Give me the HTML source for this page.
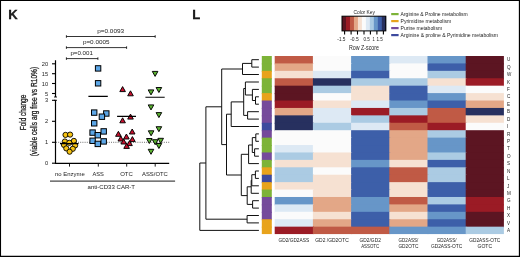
<!DOCTYPE html><html><head><meta charset="utf-8"><title>Figure</title>
<style>html,body{margin:0;padding:0;background:#fff}svg{display:block;will-change:transform;opacity:0.999}text{font-family:"Liberation Sans",sans-serif;fill:#222}</style></head><body>
<svg width="520" height="257" viewBox="0 0 520 257">
<rect x="0" y="0" width="520" height="257" fill="#fff"/>
<path d="M0 0H520V257H0ZM1.05 1V255.65H518.85V1Z" fill="#000" fill-rule="evenodd"/>
<text x="8.3" y="19" font-size="13" font-weight="bold" fill="#000" stroke="#000" stroke-width="0.3">K</text>
<text x="192.2" y="19" font-size="13" font-weight="bold" fill="#000" stroke="#000" stroke-width="0.3">L</text>
<g stroke="#000" stroke-width="1" fill="none">
<path d="M66.4 36.5H155.2M66.4 35.2V37.8M155.2 35.2V37.8" stroke-width="0.8"/>
<path d="M66.4 47.6H126.6M66.4 46.300000000000004V48.9M126.6 46.300000000000004V48.9" stroke-width="0.8"/>
<path d="M66.4 58.6H97.9M66.4 57.300000000000004V59.9M97.9 57.300000000000004V59.9" stroke-width="0.8"/>
<path d="M55.5 60.3V97M55.5 100.3V163.4H169.2" stroke-width="1.2"/>
<path d="M54 97H57M54 100.3H57" stroke-width="0.9"/>
<path d="M52 63.8H55.5" stroke-width="1.1"/>
<path d="M52 73.7H55.5" stroke-width="1.1"/>
<path d="M52 83.5H55.5" stroke-width="1.1"/>
<path d="M52 93.5H55.5" stroke-width="1.1"/>
<path d="M52 100.3H55.5" stroke-width="1.1"/>
<path d="M52 121.3H55.5" stroke-width="1.1"/>
<path d="M52 142.3H55.5" stroke-width="1.1"/>
<path d="M52 163.2H55.5" stroke-width="1.1"/>
<path d="M69.5 163.4V166.6" stroke-width="0.9"/>
<path d="M98.3 163.4V166.6" stroke-width="0.9"/>
<path d="M126.7 163.4V166.6" stroke-width="0.9"/>
<path d="M155.2 163.4V166.6" stroke-width="0.9"/>
<path d="M56 142.3H169.7" stroke-width="0.7" stroke-dasharray="1 1.2" stroke="#333"/>
<path d="M50 181.1H175.1" stroke-width="0.9"/>
</g>
<text x="48.2" y="65.85" font-size="5.7" text-anchor="end">20</text>
<text x="48.2" y="75.75" font-size="5.7" text-anchor="end">15</text>
<text x="48.2" y="85.55" font-size="5.7" text-anchor="end">10</text>
<text x="48.2" y="95.55" font-size="5.7" text-anchor="end">5</text>
<text x="48.2" y="102.35" font-size="5.7" text-anchor="end">3</text>
<text x="48.2" y="123.35" font-size="5.7" text-anchor="end">2</text>
<text x="48.2" y="144.35000000000002" font-size="5.7" text-anchor="end">1</text>
<text x="48.2" y="165.25" font-size="5.7" text-anchor="end">0</text>
<text x="97.2" y="32.7" font-size="5.8" textLength="26.9" lengthAdjust="spacingAndGlyphs">p=0.0093</text>
<text x="82.9" y="43.7" font-size="5.8" textLength="26.6" lengthAdjust="spacingAndGlyphs">p=0.0005</text>
<text x="70.4" y="54.9" font-size="5.8" textLength="22.5" lengthAdjust="spacingAndGlyphs">p=0.001</text>
<text x="69.8" y="175.7" font-size="6.1" text-anchor="middle" textLength="29.8" lengthAdjust="spacingAndGlyphs">no Enzyme</text>
<text x="98.2" y="175.7" font-size="6.1" text-anchor="middle" textLength="11.4" lengthAdjust="spacingAndGlyphs">ASS</text>
<text x="126.5" y="175.7" font-size="6.1" text-anchor="middle" textLength="12.6" lengthAdjust="spacingAndGlyphs">OTC</text>
<text x="154.9" y="175.7" font-size="6.1" text-anchor="middle" textLength="25.8" lengthAdjust="spacingAndGlyphs">ASS/OTC</text>
<text x="111.3" y="189.2" font-size="6.1" text-anchor="middle" textLength="47.4" lengthAdjust="spacingAndGlyphs">anti-CD33 CAR-T</text>
<text transform="translate(26 112.5) rotate(-90)" font-size="9.6" stroke="#222" stroke-width="0.3" text-anchor="middle" textLength="35.5" lengthAdjust="spacingAndGlyphs">Fold change</text>
<text transform="translate(36.5 111.6) rotate(-90)" font-size="9.6" stroke="#222" stroke-width="0.3" text-anchor="middle" textLength="89.5" lengthAdjust="spacingAndGlyphs">(viable cells arg free vs R10%)</text>
<g fill="#f7c313" stroke="#000" stroke-width="0.9">
<circle cx="65.5" cy="134.9" r="2.6"/>
<circle cx="70.1" cy="134.6" r="2.6"/>
<circle cx="64.9" cy="141.5" r="2.6"/>
<circle cx="73.9" cy="140.9" r="2.6"/>
<circle cx="69.3" cy="142.8" r="2.6"/>
<circle cx="64" cy="144.9" r="2.6"/>
<circle cx="75.1" cy="145.5" r="2.6"/>
<circle cx="66.3" cy="148.4" r="2.6"/>
<circle cx="72.8" cy="148.8" r="2.6"/>
<circle cx="69.6" cy="151.7" r="2.6"/>
</g>
<g fill="#5ca6e6" stroke="#000" stroke-width="1">
<rect x="95.4" y="65.7" width="5.4" height="5.4"/>
<rect x="95.4" y="80.6" width="5.4" height="5.4"/>
<rect x="91.5" y="109.9" width="5.4" height="5.4"/>
<rect x="103.6" y="110.8" width="5.4" height="5.4"/>
<rect x="99.2" y="114.0" width="5.4" height="5.4"/>
<rect x="91.5" y="120.6" width="5.4" height="5.4"/>
<rect x="89.9" y="129.9" width="5.4" height="5.4"/>
<rect x="101.0" y="128.7" width="5.4" height="5.4"/>
<rect x="95.1" y="132.5" width="5.4" height="5.4"/>
<rect x="89.9" y="138.1" width="5.4" height="5.4"/>
<rect x="101.0" y="138.7" width="5.4" height="5.4"/>
<rect x="95.1" y="141.2" width="5.4" height="5.4"/>
</g>
<g fill="#c8102e" stroke="#000" stroke-width="0.95" stroke-linejoin="miter">
<path d="M122.6 86.6L125.4 91.6H119.8Z"/>
<path d="M130.5 90.8L133.3 95.8H127.7Z"/>
<path d="M130.5 114.1L133.3 119.1H127.7Z"/>
<path d="M122.6 117.8L125.4 122.8H119.8Z"/>
<path d="M118.4 131.3L121.2 136.3H115.6Z"/>
<path d="M132.2 129.0L135.0 134.0H129.4Z"/>
<path d="M126.4 134.0L129.2 139.0H123.6Z"/>
<path d="M120.8 136.0L123.6 141.0H118.0Z"/>
<path d="M132.4 136.6L135.2 141.6H129.6Z"/>
<path d="M123.7 139.0L126.5 144.0H120.9Z"/>
<path d="M129.5 140.6L132.3 145.6H126.7Z"/>
<path d="M126.6 143.4L129.4 148.4H123.8Z"/>
</g>
<g fill="#5cb531" stroke="#000" stroke-width="0.95">
<path d="M152.3 71.4H157.9L155.1 76.4Z"/>
<path d="M148.2 89.9H153.8L151 94.9Z"/>
<path d="M156.1 87.5H161.7L158.9 92.5Z"/>
<path d="M148.2 104.9H153.8L151 109.9Z"/>
<path d="M156.1 112.6H161.7L158.9 117.6Z"/>
<path d="M156.1 126.7H161.7L158.9 131.7Z"/>
<path d="M148.3 130.8H153.9L151.1 135.8Z"/>
<path d="M146.5 138.5H152.1L149.3 143.5Z"/>
<path d="M152.4 139.7H158.0L155.2 144.7Z"/>
<path d="M157.9 138.3H163.5L160.7 143.3Z"/>
<path d="M156.1 143.5H161.7L158.9 148.5Z"/>
<path d="M148.2 149.3H153.8L151 154.3Z"/>
</g>
<g stroke="#000" stroke-width="1.15" fill="none">
<path d="M60 143.6H78.6M88.4 96.4H107.8M117.1 116.4H136M145.4 97.2H164.7"/>
</g>
<rect x="342.00" y="16.2" width="4.28" height="14.7" fill="#5c1522"/>
<rect x="345.98" y="16.2" width="4.28" height="14.7" fill="#9b1b25"/>
<rect x="349.96" y="16.2" width="4.28" height="14.7" fill="#c05a45"/>
<rect x="353.95" y="16.2" width="4.28" height="14.7" fill="#e3a787"/>
<rect x="357.93" y="16.2" width="4.28" height="14.7" fill="#f6e1d2"/>
<rect x="361.91" y="16.2" width="4.28" height="14.7" fill="#fbfbfb"/>
<rect x="365.89" y="16.2" width="4.28" height="14.7" fill="#dde9f4"/>
<rect x="369.87" y="16.2" width="4.28" height="14.7" fill="#abcbe3"/>
<rect x="373.85" y="16.2" width="4.28" height="14.7" fill="#6796c8"/>
<rect x="377.84" y="16.2" width="4.28" height="14.7" fill="#3d5fa9"/>
<rect x="381.82" y="16.2" width="4.28" height="14.7" fill="#27305f"/>
<rect x="342" y="16.2" width="43.8" height="14.7" fill="none" stroke="#000" stroke-width="1"/>
<g stroke="#000" stroke-width="1.1">
<path d="M344.6 31V34.6"/>
<path d="M351.1 31V34.6"/>
<path d="M357.5 31V34.6"/>
<path d="M364 31V34.6"/>
<path d="M370.4 31V34.6"/>
<path d="M376.9 31V34.6"/>
<path d="M383.4 31V34.6"/>
</g>
<text x="364.3" y="13.6" font-size="5.1" text-anchor="middle" textLength="21.4" lengthAdjust="spacingAndGlyphs">Color Key</text>
<text x="337.3" y="40.6" font-size="5.4" textLength="8.2" lengthAdjust="spacingAndGlyphs">-1.5</text>
<text x="350.2" y="40.6" font-size="5.4" textLength="8.5" lengthAdjust="spacingAndGlyphs">-0.5</text>
<text x="363.4" y="40.6" font-size="5.4" textLength="6.4" lengthAdjust="spacingAndGlyphs">0.5</text>
<text x="372.5" y="40.6" font-size="5.4" textLength="2.2" lengthAdjust="spacingAndGlyphs">1</text>
<text x="376.4" y="40.6" font-size="5.4" textLength="6.4" lengthAdjust="spacingAndGlyphs">1.5</text>
<text x="364" y="49.9" font-size="7.2" text-anchor="middle" textLength="30.1" lengthAdjust="spacingAndGlyphs">Row Z-score</text>
<rect x="391.2" y="13.0" width="7.4" height="2.2" fill="#7db338"/>
<text x="400.6" y="15.9" font-size="5" textLength="67" lengthAdjust="spacingAndGlyphs">Arginine &amp; Proline metabolism</text>
<rect x="391.2" y="20.0" width="7.4" height="2.2" fill="#e8a31c"/>
<text x="400.6" y="22.900000000000002" font-size="5" textLength="50.7" lengthAdjust="spacingAndGlyphs">Pyrimidine metabolism</text>
<rect x="391.2" y="27.0" width="7.4" height="2.2" fill="#754a9b"/>
<text x="400.6" y="29.900000000000002" font-size="5" textLength="41.5" lengthAdjust="spacingAndGlyphs">Purine metabolism</text>
<rect x="391.2" y="34.0" width="7.4" height="2.2" fill="#3d4a9e"/>
<text x="400.6" y="36.9" font-size="5" textLength="97.5" lengthAdjust="spacingAndGlyphs">Arginine &amp; proline &amp; Pyrimidine metabolism</text>
<rect x="261.8" y="56.00" width="10" height="8.42" fill="#7db338"/>
<rect x="261.8" y="63.42" width="10" height="8.42" fill="#7db338"/>
<rect x="261.8" y="70.84" width="10" height="8.42" fill="#e8a31c"/>
<rect x="261.8" y="78.26" width="10" height="8.42" fill="#7db338"/>
<rect x="261.8" y="85.68" width="10" height="8.42" fill="#7db338"/>
<rect x="261.8" y="93.10" width="10" height="8.42" fill="#e8a31c"/>
<rect x="261.8" y="100.52" width="10" height="8.42" fill="#754a9b"/>
<rect x="261.8" y="107.94" width="10" height="8.42" fill="#754a9b"/>
<rect x="261.8" y="115.36" width="10" height="8.42" fill="#754a9b"/>
<rect x="261.8" y="122.78" width="10" height="8.42" fill="#3d4a9e"/>
<rect x="261.8" y="130.20" width="10" height="8.42" fill="#754a9b"/>
<rect x="261.8" y="137.62" width="10" height="8.42" fill="#7db338"/>
<rect x="261.8" y="145.04" width="10" height="8.42" fill="#7db338"/>
<rect x="261.8" y="152.46" width="10" height="8.42" fill="#754a9b"/>
<rect x="261.8" y="159.88" width="10" height="8.42" fill="#7db338"/>
<rect x="261.8" y="167.30" width="10" height="8.42" fill="#e8a31c"/>
<rect x="261.8" y="174.72" width="10" height="8.42" fill="#3d4a9e"/>
<rect x="261.8" y="182.14" width="10" height="8.42" fill="#e8a31c"/>
<rect x="261.8" y="189.56" width="10" height="8.42" fill="#7db338"/>
<rect x="261.8" y="196.98" width="10" height="8.42" fill="#754a9b"/>
<rect x="261.8" y="204.40" width="10" height="8.42" fill="#754a9b"/>
<rect x="261.8" y="211.82" width="10" height="8.42" fill="#754a9b"/>
<rect x="261.8" y="219.24" width="10" height="8.42" fill="#e8a31c"/>
<rect x="261.8" y="226.66" width="10" height="7.42" fill="#e8a31c"/>
<rect x="274.70" y="56.00" width="39.20" height="8.42" fill="#c05a45"/>
<rect x="312.90" y="56.00" width="39.20" height="8.42" fill="#fbfbfb"/>
<rect x="351.10" y="56.00" width="39.20" height="8.42" fill="#6796c8"/>
<rect x="389.30" y="56.00" width="39.20" height="8.42" fill="#dde9f4"/>
<rect x="427.50" y="56.00" width="39.20" height="8.42" fill="#6796c8"/>
<rect x="465.70" y="56.00" width="38.20" height="8.42" fill="#5c1522"/>
<rect x="274.70" y="63.42" width="39.20" height="8.42" fill="#e3a787"/>
<rect x="312.90" y="63.42" width="39.20" height="8.42" fill="#fbfbfb"/>
<rect x="351.10" y="63.42" width="39.20" height="8.42" fill="#6796c8"/>
<rect x="389.30" y="63.42" width="39.20" height="8.42" fill="#fbfbfb"/>
<rect x="427.50" y="63.42" width="39.20" height="8.42" fill="#3d5fa9"/>
<rect x="465.70" y="63.42" width="38.20" height="8.42" fill="#5c1522"/>
<rect x="274.70" y="70.84" width="39.20" height="8.42" fill="#f6e1d2"/>
<rect x="312.90" y="70.84" width="39.20" height="8.42" fill="#dde9f4"/>
<rect x="351.10" y="70.84" width="39.20" height="8.42" fill="#3d5fa9"/>
<rect x="389.30" y="70.84" width="39.20" height="8.42" fill="#fbfbfb"/>
<rect x="427.50" y="70.84" width="39.20" height="8.42" fill="#abcbe3"/>
<rect x="465.70" y="70.84" width="38.20" height="8.42" fill="#5c1522"/>
<rect x="274.70" y="78.26" width="39.20" height="8.42" fill="#c05a45"/>
<rect x="312.90" y="78.26" width="39.20" height="8.42" fill="#27305f"/>
<rect x="351.10" y="78.26" width="39.20" height="8.42" fill="#abcbe3"/>
<rect x="389.30" y="78.26" width="39.20" height="8.42" fill="#abcbe3"/>
<rect x="427.50" y="78.26" width="39.20" height="8.42" fill="#f6e1d2"/>
<rect x="465.70" y="78.26" width="38.20" height="8.42" fill="#9b1b25"/>
<rect x="274.70" y="85.68" width="39.20" height="8.42" fill="#5c1522"/>
<rect x="312.90" y="85.68" width="39.20" height="8.42" fill="#abcbe3"/>
<rect x="351.10" y="85.68" width="39.20" height="8.42" fill="#f6e1d2"/>
<rect x="389.30" y="85.68" width="39.20" height="8.42" fill="#3d5fa9"/>
<rect x="427.50" y="85.68" width="39.20" height="8.42" fill="#dde9f4"/>
<rect x="465.70" y="85.68" width="38.20" height="8.42" fill="#fbfbfb"/>
<rect x="274.70" y="93.10" width="39.20" height="8.42" fill="#5c1522"/>
<rect x="312.90" y="93.10" width="39.20" height="8.42" fill="#fbfbfb"/>
<rect x="351.10" y="93.10" width="39.20" height="8.42" fill="#f6e1d2"/>
<rect x="389.30" y="93.10" width="39.20" height="8.42" fill="#3d5fa9"/>
<rect x="427.50" y="93.10" width="39.20" height="8.42" fill="#6796c8"/>
<rect x="465.70" y="93.10" width="38.20" height="8.42" fill="#f6e1d2"/>
<rect x="274.70" y="100.52" width="39.20" height="8.42" fill="#9b1b25"/>
<rect x="312.90" y="100.52" width="39.20" height="8.42" fill="#f6e1d2"/>
<rect x="351.10" y="100.52" width="39.20" height="8.42" fill="#dde9f4"/>
<rect x="389.30" y="100.52" width="39.20" height="8.42" fill="#6796c8"/>
<rect x="427.50" y="100.52" width="39.20" height="8.42" fill="#3d5fa9"/>
<rect x="465.70" y="100.52" width="38.20" height="8.42" fill="#e3a787"/>
<rect x="274.70" y="107.94" width="39.20" height="8.42" fill="#e3a787"/>
<rect x="312.90" y="107.94" width="39.20" height="8.42" fill="#dde9f4"/>
<rect x="351.10" y="107.94" width="39.20" height="8.42" fill="#9b1b25"/>
<rect x="389.30" y="107.94" width="39.20" height="8.42" fill="#abcbe3"/>
<rect x="427.50" y="107.94" width="39.20" height="8.42" fill="#c05a45"/>
<rect x="465.70" y="107.94" width="38.20" height="8.42" fill="#27305f"/>
<rect x="274.70" y="115.36" width="39.20" height="8.42" fill="#27305f"/>
<rect x="312.90" y="115.36" width="39.20" height="8.42" fill="#dde9f4"/>
<rect x="351.10" y="115.36" width="39.20" height="8.42" fill="#abcbe3"/>
<rect x="389.30" y="115.36" width="39.20" height="8.42" fill="#9b1b25"/>
<rect x="427.50" y="115.36" width="39.20" height="8.42" fill="#c05a45"/>
<rect x="465.70" y="115.36" width="38.20" height="8.42" fill="#f6e1d2"/>
<rect x="274.70" y="122.78" width="39.20" height="8.42" fill="#27305f"/>
<rect x="312.90" y="122.78" width="39.20" height="8.42" fill="#abcbe3"/>
<rect x="351.10" y="122.78" width="39.20" height="8.42" fill="#dde9f4"/>
<rect x="389.30" y="122.78" width="39.20" height="8.42" fill="#c05a45"/>
<rect x="427.50" y="122.78" width="39.20" height="8.42" fill="#9b1b25"/>
<rect x="465.70" y="122.78" width="38.20" height="8.42" fill="#fbfbfb"/>
<rect x="274.70" y="130.20" width="39.20" height="8.42" fill="#fbfbfb"/>
<rect x="312.90" y="130.20" width="39.20" height="8.42" fill="#fbfbfb"/>
<rect x="351.10" y="130.20" width="39.20" height="8.42" fill="#3d5fa9"/>
<rect x="389.30" y="130.20" width="39.20" height="8.42" fill="#e3a787"/>
<rect x="427.50" y="130.20" width="39.20" height="8.42" fill="#abcbe3"/>
<rect x="465.70" y="130.20" width="38.20" height="8.42" fill="#5c1522"/>
<rect x="274.70" y="137.62" width="39.20" height="8.42" fill="#fbfbfb"/>
<rect x="312.90" y="137.62" width="39.20" height="8.42" fill="#fbfbfb"/>
<rect x="351.10" y="137.62" width="39.20" height="8.42" fill="#3d5fa9"/>
<rect x="389.30" y="137.62" width="39.20" height="8.42" fill="#e3a787"/>
<rect x="427.50" y="137.62" width="39.20" height="8.42" fill="#6796c8"/>
<rect x="465.70" y="137.62" width="38.20" height="8.42" fill="#5c1522"/>
<rect x="274.70" y="145.04" width="39.20" height="8.42" fill="#dde9f4"/>
<rect x="312.90" y="145.04" width="39.20" height="8.42" fill="#fbfbfb"/>
<rect x="351.10" y="145.04" width="39.20" height="8.42" fill="#3d5fa9"/>
<rect x="389.30" y="145.04" width="39.20" height="8.42" fill="#e3a787"/>
<rect x="427.50" y="145.04" width="39.20" height="8.42" fill="#6796c8"/>
<rect x="465.70" y="145.04" width="38.20" height="8.42" fill="#5c1522"/>
<rect x="274.70" y="152.46" width="39.20" height="8.42" fill="#abcbe3"/>
<rect x="312.90" y="152.46" width="39.20" height="8.42" fill="#f6e1d2"/>
<rect x="351.10" y="152.46" width="39.20" height="8.42" fill="#3d5fa9"/>
<rect x="389.30" y="152.46" width="39.20" height="8.42" fill="#e3a787"/>
<rect x="427.50" y="152.46" width="39.20" height="8.42" fill="#abcbe3"/>
<rect x="465.70" y="152.46" width="38.20" height="8.42" fill="#5c1522"/>
<rect x="274.70" y="159.88" width="39.20" height="8.42" fill="#f6e1d2"/>
<rect x="312.90" y="159.88" width="39.20" height="8.42" fill="#f6e1d2"/>
<rect x="351.10" y="159.88" width="39.20" height="8.42" fill="#6796c8"/>
<rect x="389.30" y="159.88" width="39.20" height="8.42" fill="#f6e1d2"/>
<rect x="427.50" y="159.88" width="39.20" height="8.42" fill="#3d5fa9"/>
<rect x="465.70" y="159.88" width="38.20" height="8.42" fill="#5c1522"/>
<rect x="274.70" y="167.30" width="39.20" height="8.42" fill="#abcbe3"/>
<rect x="312.90" y="167.30" width="39.20" height="8.42" fill="#fbfbfb"/>
<rect x="351.10" y="167.30" width="39.20" height="8.42" fill="#3d5fa9"/>
<rect x="389.30" y="167.30" width="39.20" height="8.42" fill="#c05a45"/>
<rect x="427.50" y="167.30" width="39.20" height="8.42" fill="#abcbe3"/>
<rect x="465.70" y="167.30" width="38.20" height="8.42" fill="#5c1522"/>
<rect x="274.70" y="174.72" width="39.20" height="8.42" fill="#abcbe3"/>
<rect x="312.90" y="174.72" width="39.20" height="8.42" fill="#f6e1d2"/>
<rect x="351.10" y="174.72" width="39.20" height="8.42" fill="#3d5fa9"/>
<rect x="389.30" y="174.72" width="39.20" height="8.42" fill="#c05a45"/>
<rect x="427.50" y="174.72" width="39.20" height="8.42" fill="#abcbe3"/>
<rect x="465.70" y="174.72" width="38.20" height="8.42" fill="#5c1522"/>
<rect x="274.70" y="182.14" width="39.20" height="8.42" fill="#f6e1d2"/>
<rect x="312.90" y="182.14" width="39.20" height="8.42" fill="#f6e1d2"/>
<rect x="351.10" y="182.14" width="39.20" height="8.42" fill="#3d5fa9"/>
<rect x="389.30" y="182.14" width="39.20" height="8.42" fill="#f6e1d2"/>
<rect x="427.50" y="182.14" width="39.20" height="8.42" fill="#3d5fa9"/>
<rect x="465.70" y="182.14" width="38.20" height="8.42" fill="#5c1522"/>
<rect x="274.70" y="189.56" width="39.20" height="8.42" fill="#fbfbfb"/>
<rect x="312.90" y="189.56" width="39.20" height="8.42" fill="#f6e1d2"/>
<rect x="351.10" y="189.56" width="39.20" height="8.42" fill="#3d5fa9"/>
<rect x="389.30" y="189.56" width="39.20" height="8.42" fill="#f6e1d2"/>
<rect x="427.50" y="189.56" width="39.20" height="8.42" fill="#3d5fa9"/>
<rect x="465.70" y="189.56" width="38.20" height="8.42" fill="#5c1522"/>
<rect x="274.70" y="196.98" width="39.20" height="8.42" fill="#6796c8"/>
<rect x="312.90" y="196.98" width="39.20" height="8.42" fill="#e3a787"/>
<rect x="351.10" y="196.98" width="39.20" height="8.42" fill="#6796c8"/>
<rect x="389.30" y="196.98" width="39.20" height="8.42" fill="#c05a45"/>
<rect x="427.50" y="196.98" width="39.20" height="8.42" fill="#abcbe3"/>
<rect x="465.70" y="196.98" width="38.20" height="8.42" fill="#9b1b25"/>
<rect x="274.70" y="204.40" width="39.20" height="8.42" fill="#dde9f4"/>
<rect x="312.90" y="204.40" width="39.20" height="8.42" fill="#e3a787"/>
<rect x="351.10" y="204.40" width="39.20" height="8.42" fill="#6796c8"/>
<rect x="389.30" y="204.40" width="39.20" height="8.42" fill="#e3a787"/>
<rect x="427.50" y="204.40" width="39.20" height="8.42" fill="#3d5fa9"/>
<rect x="465.70" y="204.40" width="38.20" height="8.42" fill="#9b1b25"/>
<rect x="274.70" y="211.82" width="39.20" height="8.42" fill="#fbfbfb"/>
<rect x="312.90" y="211.82" width="39.20" height="8.42" fill="#f6e1d2"/>
<rect x="351.10" y="211.82" width="39.20" height="8.42" fill="#3d5fa9"/>
<rect x="389.30" y="211.82" width="39.20" height="8.42" fill="#f6e1d2"/>
<rect x="427.50" y="211.82" width="39.20" height="8.42" fill="#6796c8"/>
<rect x="465.70" y="211.82" width="38.20" height="8.42" fill="#5c1522"/>
<rect x="274.70" y="219.24" width="39.20" height="8.42" fill="#dde9f4"/>
<rect x="312.90" y="219.24" width="39.20" height="8.42" fill="#e3a787"/>
<rect x="351.10" y="219.24" width="39.20" height="8.42" fill="#3d5fa9"/>
<rect x="389.30" y="219.24" width="39.20" height="8.42" fill="#e3a787"/>
<rect x="427.50" y="219.24" width="39.20" height="8.42" fill="#3d5fa9"/>
<rect x="465.70" y="219.24" width="38.20" height="8.42" fill="#5c1522"/>
<rect x="274.70" y="226.66" width="39.20" height="7.42" fill="#9b1b25"/>
<rect x="312.90" y="226.66" width="39.20" height="7.42" fill="#c05a45"/>
<rect x="351.10" y="226.66" width="39.20" height="7.42" fill="#c05a45"/>
<rect x="389.30" y="226.66" width="39.20" height="7.42" fill="#6796c8"/>
<rect x="427.50" y="226.66" width="39.20" height="7.42" fill="#6796c8"/>
<rect x="465.70" y="226.66" width="38.20" height="7.42" fill="#abcbe3"/>
<text x="507.1" y="61.36" font-size="4.6">U</text>
<text x="507.1" y="68.78" font-size="4.6">Q</text>
<text x="507.1" y="76.20" font-size="4.6">W</text>
<text x="507.1" y="83.62" font-size="4.6">K</text>
<text x="507.1" y="91.04" font-size="4.6">F</text>
<text x="507.1" y="98.46" font-size="4.6">C</text>
<text x="507.1" y="105.88" font-size="4.6">E</text>
<text x="507.1" y="113.30" font-size="4.6">B</text>
<text x="507.1" y="120.72" font-size="4.6">D</text>
<text x="507.1" y="128.14" font-size="4.6">I</text>
<text x="507.1" y="135.56" font-size="4.6">R</text>
<text x="507.1" y="142.98" font-size="4.6">P</text>
<text x="507.1" y="150.40" font-size="4.6">T</text>
<text x="507.1" y="157.82" font-size="4.6">O</text>
<text x="507.1" y="165.24" font-size="4.6">S</text>
<text x="507.1" y="172.66" font-size="4.6">N</text>
<text x="507.1" y="180.08" font-size="4.6">L</text>
<text x="507.1" y="187.50" font-size="4.6">J</text>
<text x="507.1" y="194.92" font-size="4.6">M</text>
<text x="507.1" y="202.34" font-size="4.6">G</text>
<text x="507.1" y="209.76" font-size="4.6">H</text>
<text x="507.1" y="217.18" font-size="4.6">X</text>
<text x="507.1" y="224.60" font-size="4.6">V</text>
<text x="507.1" y="232.02" font-size="4.6">A</text>
<text x="293.8" y="241.8" font-size="5" text-anchor="middle" textLength="30.7" lengthAdjust="spacingAndGlyphs">GD2/GD2ASS</text>
<text x="332.0" y="241.8" font-size="5" text-anchor="middle" textLength="33.5" lengthAdjust="spacingAndGlyphs">GD2 /GD2OTC</text>
<text x="370.2" y="241.8" font-size="5" text-anchor="middle" textLength="21.3" lengthAdjust="spacingAndGlyphs">GD2/GD2</text>
<text x="370.2" y="248.1" font-size="5" text-anchor="middle" textLength="18" lengthAdjust="spacingAndGlyphs">ASSOTC</text>
<text x="408.4" y="241.8" font-size="5" text-anchor="middle" textLength="19.7" lengthAdjust="spacingAndGlyphs">GD2ASS/</text>
<text x="408.4" y="248.1" font-size="5" text-anchor="middle" textLength="20" lengthAdjust="spacingAndGlyphs">GD2OTC</text>
<text x="446.6" y="241.8" font-size="5" text-anchor="middle" textLength="19.7" lengthAdjust="spacingAndGlyphs">GD2ASS/</text>
<text x="446.6" y="248.1" font-size="5" text-anchor="middle" textLength="31.2" lengthAdjust="spacingAndGlyphs">GD2ASS-OTC</text>
<text x="484.8" y="241.8" font-size="5" text-anchor="middle" textLength="31" lengthAdjust="spacingAndGlyphs">GD2ASS-OTC</text>
<text x="484.8" y="248.1" font-size="5" text-anchor="middle" textLength="14.7" lengthAdjust="spacingAndGlyphs">GOTC</text>
<path d="M258.9 59.7H251.8V67.1H258.9M251.8 63.4H242.5V74.5H258.9M258.9 96.8H255.5V104.2H258.9M258.9 89.4H252.4V100.5H255.5M258.9 82.0H245.4V95.0H252.4M258.9 111.7H247.6V119.1H258.9M245.4 88.5H243.7V115.4H247.6M243.7 101.9H231.2V126.5H258.9M258.9 133.9H255.8V141.3H258.9M258.9 148.8H254.6V156.2H258.9M255.8 137.6H252.3V152.5H254.6M252.3 145.0H248.6V163.6H258.9M258.9 171.0H255.4V178.4H258.9M255.4 174.7H251.8V185.8H258.9M251.8 180.3H251.2V193.3H258.9M258.9 200.7H252.6V208.1H258.9M251.2 186.8H247.2V204.4H252.6M248.6 154.3H241.3V195.6H247.2M231.2 114.2H226.5V175.0H241.3M242.5 69.0H221.7V144.6H226.5M258.9 215.5H247.1V222.9H258.9M221.7 106.8H205.9V219.2H247.1M205.9 163.0H199.8V230.4H258.9" fill="none" stroke="#111" stroke-width="1" stroke-linejoin="miter"/>
</svg></body></html>
